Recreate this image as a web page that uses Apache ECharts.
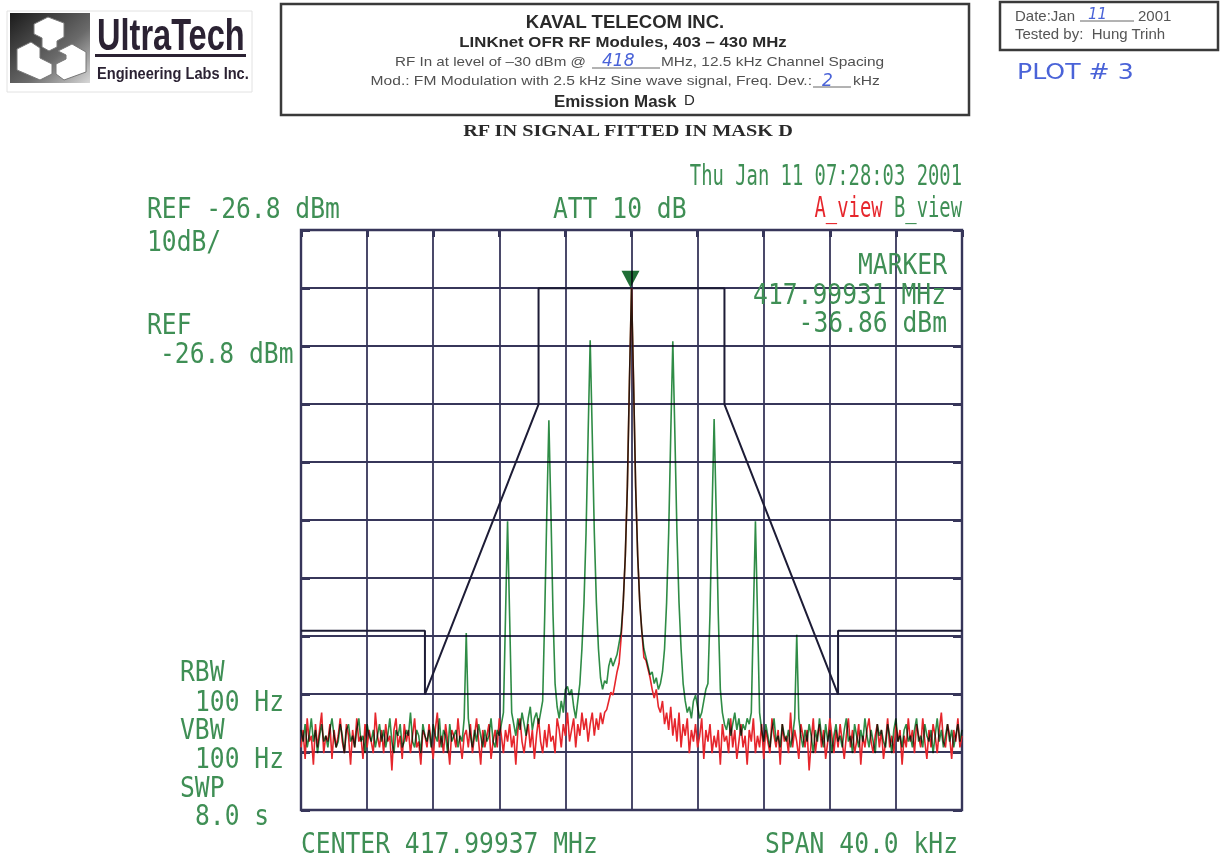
<!DOCTYPE html>
<html>
<head>
<meta charset="utf-8">
<script src="https://cdn.jsdelivr.net/npm/echarts@6.0.0/dist/echarts.min.js"></script>
<style>
  html, body { margin: 0; padding: 0; background: #ffffff; }
  #wrap { position: relative; width: 1222px; height: 865px; }
  #base, #overlay { position: absolute; left: 0; top: 0; width: 1222px; height: 865px; }
  #overlay { mix-blend-mode: multiply; pointer-events: none; }
</style>
</head>
<body>
<div id="wrap">
  <div id="base"></div>
  <div id="overlay"></div>
</div>
<script>
// ---------------- DATA ----------------
// Analyzer settings
const REF_LEVEL_DBM = -26.8;      // top graticule line
const DB_PER_DIV = 10;
const CENTER_MHZ = 417.99937;
const SPAN_KHZ = 40.0;
// Sweep bins: offset from center in kHz
const FREQ_START_KHZ = -20;
const FREQ_STEP_KHZ = 0.125;

// Trace A (red, unmodulated carrier), dBm per sweep bin (321 bins)
const traceA_dBm = [
  -116,-113,-118,-111,-115,-114,-119,-112,-116,-113,-110,-117,-114,-115,-112,-118,-113,-116,-114,-111,
  -115,-117,-112,-114,-119,-113,-116,-111,-115,-114,-118,-112,-116,-113,-115,-117,-110,-114,-116,-113,
  -117,-112,-115,-114,-120,-113,-111,-116,-114,-118,-112,-115,-113,-117,-114,-111,-116,-115,-119,-113,
  -114,-116,-112,-115,-118,-113,-110,-116,-114,-117,-112,-115,-119,-113,-114,-116,-111,-115,-118,-114,
  -113,-116,-112,-117,-114,-111,-115,-119,-113,-116,-114,-112,-118,-115,-113,-116,-111,-114,-117,-113,
  -115,-112,-116,-114,-119,-113,-111,-115,-117,-114,-112,-116,-113,-118,-114,-111,-115,-117,-113,-116,
  -112,-115,-114,-117,-111,-113,-116,-112,-114,-110,-115,-113,-111,-116,-112,-114,-110,-113,-111,-115,
  -112,-110,-114,-111,-113,-110,-112,-110,-109.5,-108,-106.5,-107,-105,-103,-101.5,-97,-91,-83,-71,-53,
  -36.86,
  -53,-71,-83,-91,-96,-100.5,-101,-102.5,-104,-106,-107.5,-106,-109,-110,-108,-112,-110,-113,-109,-114,
  -111,-115,-110,-116,-112,-114,-111,-117,-113,-115,-112,-116,-114,-111,-118,-113,-115,-112,-117,-114,
  -116,-113,-119,-112,-115,-114,-117,-111,-116,-113,-118,-115,-112,-116,-114,-119,-113,-115,-111,-117,
  -114,-116,-112,-118,-113,-115,-117,-111,-114,-116,-113,-119,-112,-115,-114,-117,-110,-116,-113,-115,
  -118,-112,-114,-116,-113,-120,-115,-111,-117,-114,-112,-116,-113,-118,-115,-111,-114,-117,-113,-116,
  -112,-115,-118,-114,-111,-116,-113,-117,-115,-112,-119,-114,-116,-113,-111,-115,-117,-114,-112,-116,
  -113,-118,-115,-111,-116,-114,-117,-112,-115,-113,-119,-114,-116,-111,-115,-113,-117,-112,-114,-116,
  -111,-115,-118,-113,-116,-112,-114,-117,-113,-110,-115,-116,-112,-114,-118,-113,-115,-111,-116,-114
];

// Trace B (green, FM modulated, 2.5 kHz tone), dBm per sweep bin (321 bins)
const traceB_dBm = [
  -113,-115,-112,-116,-114,-111,-115,-113,-117,-114,-112,-115,-114,-116,-113,-111,-114,-116,-115,-112,
  -114,-117,-113,-112,-115,-114,-116,-113,-111,-115,-114,-117,-112,-114,-115,-113,-116,-114,-112,-115,
  -113,-116,-114,-111,-115,-117,-113,-114,-112,-116,-115,-113,-114,-110,-115,-116,-113,-114,-117,-112,
  -114,-115,-113,-116,-112,-114,-115,-111,-116,-113,-114,-117,-112,-115,-114,-113,-116,-114,-115,-111,
  -96.3,-111,-114,-116,-113,-115,-112,-114,-116,-113,-115,-114,-111,-115,-116,-113,-114,-112,-110,-93.5,
  -77.0,-93.5,-110,-112,-114,-111,-113,-110,-112,-114,-111,-109,-113,-111,-110,-112,-110,-108,-93,-75.6,
  -59.6,-75.6,-93,-105,-109,-111,-108,-110,-106,-105.5,-107,-106,-109,-111,-108,-105,-99,-91,-79,-62,
  -45.8,-62,-79,-91,-99,-104,-106,-104.5,-105,-102,-100.6,-102,-101,-100,-98,-96,-91,-83,-71,-53,
  -36.86,
  -53,-71,-83,-91,-96,-99,-100.5,-102,-103.5,-103,-105,-104,-106,-105,-103,-99,-91,-79,-62,-46.0,
  -62,-79,-91,-99,-105,-108,-110,-109,-111,-108,-107,-109,-111,-110,-108,-106,-105,-93,-75.4,-59.4,
  -75.4,-93,-106,-110,-112,-113,-111,-114,-112,-110,-113,-111,-114,-112,-113,-111,-112,-110,-93.3,-77.0,
  -93.3,-110,-113,-115,-112,-114,-116,-113,-111,-115,-114,-116,-112,-114,-115,-113,-116,-114,-111,-96.6,
  -111,-114,-116,-113,-115,-112,-114,-117,-113,-115,-111,-114,-116,-112,-115,-113,-117,-114,-112,-115,
  -114,-116,-113,-111,-115,-114,-117,-112,-114,-116,-113,-115,-111,-114,-116,-113,-115,-117,-112,-114,
  -113,-115,-116,-112,-114,-117,-113,-111,-115,-114,-116,-113,-112,-115,-114,-116,-113,-111,-115,-114,
  -116,-112,-114,-115,-113,-117,-114,-111,-115,-113,-116,-114,-112,-115,-113,-116,-114,-112,-115,-113
];

// Emission mask D (kHz offset, dBm)
const maskFreqKHz  = [-20, -12.5, -12.5, -5.625, -5.625, 5.625, 5.625, 12.5, 12.5, 20];
const maskLevelDBm = [-95.9, -95.9, -106.86, -56.86, -36.86, -36.86, -56.86, -106.86, -95.9, -95.9];

// Marker
const markerFreqKHz = (417.99931 - CENTER_MHZ) * 1000;
const markerLevelDBm = -36.86;

// ---------------- STYLE ----------------
const GRID_COLOR = '#37365a';
const MASK_COLOR = '#1d1c36';
const RED = '#e6262c';
const GREEN = '#2f8c46';
const TXT_GREEN = '#3f8f55';
const MONO = '"DejaVu Sans Mono"';
const SANS = '"Liberation Sans"';
const HAND = '#4a63d8';

function pts(arr) {
  return arr.map((v, i) => [FREQ_START_KHZ + i * FREQ_STEP_KHZ, v - REF_LEVEL_DBM]);
}
const maskPts = maskFreqKHz.map((f, i) => [f, maskLevelDBm[i] - REF_LEVEL_DBM]);

const GRID = { left: 301, top: 230, width: 661, height: 580 };

function axes(visible) {
  const xa = [
    { type: 'value', min: -SPAN_KHZ / 2, max: SPAN_KHZ / 2, interval: SPAN_KHZ / 10, position: 'bottom',
      show: visible, axisLine: { show: false, onZero: false }, axisTick: { show: false }, axisLabel: { show: false },
      splitLine: { show: visible, lineStyle: { color: GRID_COLOR, width: 1.8 } } },
    { type: 'value', min: -SPAN_KHZ / 2, max: SPAN_KHZ / 2, interval: SPAN_KHZ / 10, position: 'top',
      show: visible, axisLine: { show: false, onZero: false }, axisLabel: { show: false },
      axisTick: { show: visible, inside: true, length: 7, lineStyle: { color: GRID_COLOR, width: 3 } },
      splitLine: { show: false } }
  ];
  const ya = [
    { type: 'value', min: -10 * DB_PER_DIV, max: 0, interval: DB_PER_DIV, position: 'left',
      show: visible, axisLine: { show: false, onZero: false }, axisLabel: { show: false },
      axisTick: { show: visible, inside: true, length: 9, lineStyle: { color: GRID_COLOR, width: 3 } },
      splitLine: { show: visible, lineStyle: { color: GRID_COLOR, width: 1.8 } } },
    { type: 'value', min: -10 * DB_PER_DIV, max: 0, interval: DB_PER_DIV, position: 'right',
      show: visible, axisLine: { show: false, onZero: false }, axisLabel: { show: false },
      axisTick: { show: visible, inside: true, length: 9, lineStyle: { color: GRID_COLOR, width: 3 } },
      splitLine: { show: false } }
  ];
  return { xAxis: xa, yAxis: ya };
}

function txt(text, x, y, opts) {
  opts = opts || {};
  const align = opts.align || 'left';
  return {
    type: 'text', x: x, y: y, silent: true,
    scaleX: opts.scaleX || 1, scaleY: opts.scaleY || 1, originX: 0, originY: 0,
    z: 100,
    style: {
      text: text, font: opts.font, fill: opts.fill || TXT_GREEN,
      align: align, textAlign: align, verticalAlign: 'middle', textVerticalAlign: 'middle',
      rich: opts.rich
    }
  };
}
const BIG = { font: '29px ' + MONO, scaleX: 0.85 };
const SMALL = { font: '29px ' + MONO, scaleX: 0.65 };
function big(t, x, y, align) { return txt(t, x, y, { font: BIG.font, scaleX: BIG.scaleX, align: align }); }

const graphics = [
  // ----- logo -----
  { type: 'rect', shape: { x: 7, y: 11, width: 245, height: 81 }, style: { fill: '#ffffff', stroke: '#e2e2e2', lineWidth: 1 }, silent: true },
  { type: 'rect', shape: { x: 10, y: 13, width: 80, height: 70 }, silent: true,
    style: { fill: { type: 'linear', x: 0, y: 0, x2: 1, y2: 1, colorStops: [ { offset: 0, color: '#1b1b1b' }, { offset: 0.6, color: '#6a6a6a' }, { offset: 1, color: '#d8d8d8' } ] } } },
  { type: 'polygon', silent: true, shape: { points: [[34,24],[48,17],[64,23],[64,37],[57,41],[57,47],[49,51],[42,47],[42,38],[34,34]] }, style: { fill: '#ffffff', stroke: '#777', lineWidth: 1 } },
  { type: 'polygon', silent: true, shape: { points: [[17,49],[31,42],[40,48],[40,58],[52,64],[52,74],[40,80],[17,70]] }, style: { fill: '#ffffff', stroke: '#777', lineWidth: 1 } },
  { type: 'polygon', silent: true, shape: { points: [[58,51],[72,44],[86,52],[86,72],[64,80],[56,74],[56,64],[66,59],[66,55]] }, style: { fill: '#ffffff', stroke: '#777', lineWidth: 1 } },
  txt('UltraTech', 97, 35, { font: 'bold 44px ' + SANS, scaleX: 0.74, fill: '#2b2233' }),
  { type: 'rect', shape: { x: 95, y: 54, width: 151, height: 3 }, style: { fill: '#2b2233' }, silent: true },
  txt('Engineering Labs Inc.', 97, 73, { font: 'bold 17px ' + SANS, scaleX: 0.86, fill: '#2b2233' }),

  // ----- center header box -----
  { type: 'rect', shape: { x: 281, y: 4, width: 688, height: 111 }, style: { fill: 'none', stroke: '#3a3a3a', lineWidth: 2.5 }, silent: true },
  txt('KAVAL TELECOM INC.', 625, 21, { font: 'bold 18.5px ' + SANS, fill: '#2a2a2a', align: 'center' }),
  txt('LINKnet OFR RF Modules, 403 \u2013 430 MHz', 623, 42, { font: 'bold 15px ' + SANS, fill: '#2a2a2a', align: 'center', scaleX: 1.12 }),
  txt('RF In at level of \u201330 dBm @', 395, 61, { font: '13px ' + SANS, fill: '#505050', scaleX: 1.17 }),
  { type: 'line', shape: { x1: 592, y1: 68, x2: 660, y2: 68 }, style: { stroke: '#666', lineWidth: 1 }, silent: true },
  txt('418', 602, 60, { font: 'italic 17px "DejaVu Sans"', fill: HAND }),
  txt('MHz, 12.5 kHz Channel Spacing', 661, 61, { font: '13px ' + SANS, fill: '#505050', scaleX: 1.19 }),
  txt('Mod.: FM Modulation with 2.5 kHz Sine wave signal, Freq. Dev.:', 812, 80, { font: '13px ' + SANS, fill: '#505050', align: 'right', scaleX: 1.2 }),
  { type: 'line', shape: { x1: 813, y1: 87, x2: 851, y2: 87 }, style: { stroke: '#666', lineWidth: 1 }, silent: true },
  txt('2', 822, 80, { font: 'italic 17px "DejaVu Sans"', fill: HAND }),
  txt('kHz', 853, 80, { font: '13px ' + SANS, fill: '#505050', scaleX: 1.2 }),
  txt('Emission Mask', 554, 101, { font: 'bold 16px ' + SANS, fill: '#2a2a2a', scaleX: 1.06 }),
  txt('D', 684, 99, { font: '15px ' + SANS, fill: '#2a2a2a' }),

  // ----- right box -----
  { type: 'rect', shape: { x: 1000, y: 2, width: 218, height: 48 }, style: { fill: 'none', stroke: '#3a3a3a', lineWidth: 2.5 }, silent: true },
  txt('Date:Jan', 1015, 15, { font: '15px ' + SANS, fill: '#555' }),
  { type: 'line', shape: { x1: 1080, y1: 21, x2: 1134, y2: 21 }, style: { stroke: '#666', lineWidth: 1 }, silent: true },
  txt('11', 1088, 14, { font: 'italic 15px "DejaVu Sans"', fill: HAND }),
  txt('2001', 1138, 15, { font: '15px ' + SANS, fill: '#555' }),
  txt('Tested by:  Hung Trinh', 1015, 33, { font: '15px ' + SANS, fill: '#555' }),
  txt('PLOT # 3', 1017, 71, { font: '21px "DejaVu Sans"', fill: HAND, scaleX: 1.2 }),

  // ----- title -----
  txt('RF IN SIGNAL FITTED IN MASK D', 628, 131, { font: 'bold 16px "Liberation Serif"', fill: '#2a2a2a', align: 'center', scaleX: 1.27 }),

  // ----- analyzer annotations -----
  txt('Thu Jan 11 07:28:03 2001', 962, 175, { font: SMALL.font, scaleX: SMALL.scaleX, align: 'right' }),
  big('REF -26.8 dBm', 147, 208),
  big('ATT 10 dB', 553, 208),
  txt('{a|A_view} {b|B_view}', 962, 207, { font: SMALL.font, scaleX: SMALL.scaleX, align: 'right',
      rich: { a: { fill: RED, font: SMALL.font }, b: { fill: TXT_GREEN, font: SMALL.font } } }),
  big('10dB/', 147, 241),
  big('REF', 147, 324),
  big('-26.8 dBm', 160, 353),
  big('MARKER', 947, 264, 'right'),
  big('417.99931 MHz', 946, 294, 'right'),
  big('-36.86 dBm', 947, 322, 'right'),
  big('RBW', 180, 671),
  big('100 Hz', 195, 701),
  big('VBW', 180, 729),
  big('100 Hz', 195, 758),
  big('SWP', 180, 787),
  big('8.0 s', 195, 815),
  big('CENTER 417.99937 MHz', 301, 843),
  big('SPAN 40.0 kHz', 958, 843, 'right')
];

const baseAxes = axes(true);
const baseOption = {
  animation: false,
  backgroundColor: '#ffffff',
  grid: Object.assign({ show: true, borderColor: GRID_COLOR, borderWidth: 2.4, backgroundColor: 'rgba(0,0,0,0)' }, GRID),
  xAxis: baseAxes.xAxis,
  yAxis: baseAxes.yAxis,
  series: [
    { name: 'Mask D', type: 'line', data: maskPts, symbol: 'none', silent: true, z: 3,
      lineStyle: { color: MASK_COLOR, width: 2 } },
    { name: 'A_view', type: 'line', data: pts(traceA_dBm), symbol: 'none', silent: true, z: 4,
      lineStyle: { color: RED, width: 1.6 } }
  ],
  graphic: { elements: graphics }
};

const ovAxes = axes(false);
const overlayOption = {
  animation: false,
  backgroundColor: 'rgba(0,0,0,0)',
  grid: Object.assign({ show: false }, GRID),
  xAxis: ovAxes.xAxis,
  yAxis: ovAxes.yAxis,
  series: [
    { name: 'B_view', type: 'line', data: pts(traceB_dBm), symbol: 'none', silent: true, z: 5,
      lineStyle: { color: GREEN, width: 1.6 },
      markPoint: {
        animation: false, silent: true,
        label: { show: false },
        data: [ { coord: [markerFreqKHz, markerLevelDBm - REF_LEVEL_DBM], symbol: 'triangle',
                  symbolSize: [18, 17], symbolRotate: 180, symbolOffset: [0, -9],
                  itemStyle: { color: '#1f6e36' } } ]
      } }
  ]
};

const base = echarts.init(document.getElementById('base'), null, { renderer: 'svg' });
base.setOption(baseOption);
const overlay = echarts.init(document.getElementById('overlay'), null, { renderer: 'svg' });
overlay.setOption(overlayOption);
</script>
</body>
</html>
